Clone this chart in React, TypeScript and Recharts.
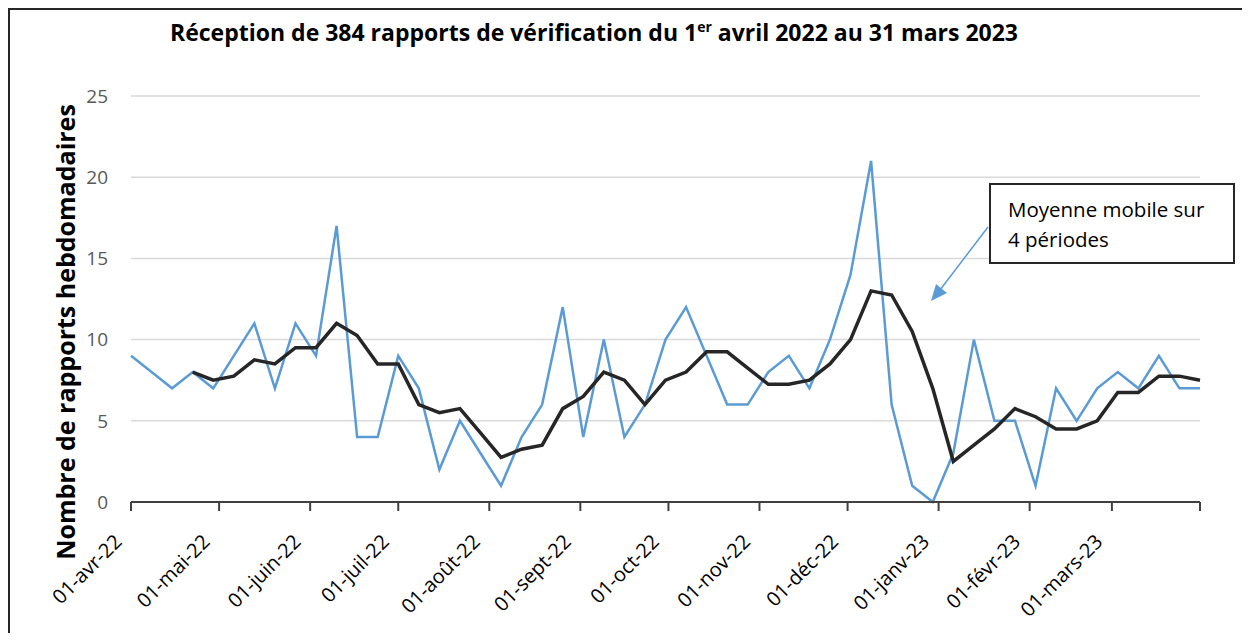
import { LineChart, Line, XAxis, YAxis, CartesianGrid } from "recharts"

// semaines (vendredis) du 1er avril 2022 au 31 mars 2023
const weeks = [
  "2022-04-01", "2022-04-08", "2022-04-15", "2022-04-22", "2022-04-29",
  "2022-05-06", "2022-05-13", "2022-05-20", "2022-05-27",
  "2022-06-03", "2022-06-10", "2022-06-17", "2022-06-24",
  "2022-07-01", "2022-07-08", "2022-07-15", "2022-07-22", "2022-07-29",
  "2022-08-05", "2022-08-12", "2022-08-19", "2022-08-26",
  "2022-09-02", "2022-09-09", "2022-09-16", "2022-09-23", "2022-09-30",
  "2022-10-07", "2022-10-14", "2022-10-21", "2022-10-28",
  "2022-11-04", "2022-11-11", "2022-11-18", "2022-11-25",
  "2022-12-02", "2022-12-09", "2022-12-16", "2022-12-23", "2022-12-30",
  "2023-01-06", "2023-01-13", "2023-01-20", "2023-01-27",
  "2023-02-03", "2023-02-10", "2023-02-17", "2023-02-24",
  "2023-03-03", "2023-03-10", "2023-03-17", "2023-03-24", "2023-03-31",
]

const weeklyReports = [
  9, 8, 7, 8, 7, 9, 11, 7, 11, 9, 17, 4, 4, 9, 7, 2, 5, 3, 1, 4, 6, 12, 4, 10, 4, 6,
  10, 12, 9, 6, 6, 8, 9, 7, 10, 14, 21, 6, 1, 0, 3, 10, 5, 5, 1, 7, 5, 7, 8, 7, 9, 7, 7,
]

// moyenne mobile sur 4 périodes
const movingAvg = [
  null, null, null, 8, 7.5, 7.75, 8.75, 8.5, 9.5, 9.5, 11, 10.25, 8.5, 8.5, 6, 5.5,
  5.75, 4.25, 2.75, 3.25, 3.5, 5.75, 6.5, 8, 7.5, 6, 7.5, 8, 9.25, 9.25, 8.25, 7.25,
  7.25, 7.5, 8.5, 10, 13, 12.75, 10.5, 7, 2.5, 3.5, 4.5, 5.75, 5.25, 4.5, 4.5, 5,
  6.75, 6.75, 7.75, 7.75, 7.5,
]

const monthTicks = [
  "2022-04-01", "2022-05-01", "2022-06-01", "2022-07-01", "2022-08-01", "2022-09-01",
  "2022-10-01", "2022-11-01", "2022-12-01", "2023-01-01", "2023-02-01", "2023-03-01",
  "2023-03-31",
]
const monthLabels = [
  "01-avr-22", "01-mai-22", "01-juin-22", "01-juil-22", "01-août-22", "01-sept-22",
  "01-oct-22", "01-nov-22", "01-déc-22", "01-janv-23", "01-févr-23", "01-mars-23", "",
]

const yTicks = [0, 5, 10, 15, 20, 25]

const start = Date.UTC(2022, 3, 1)
const toDay = (iso: string) => {
  const [y, m, d] = iso.split("-").map(Number)
  return Math.round((Date.UTC(y, m - 1, d) - start) / 86400000)
}

const data = weeks.map((w, i) => ({
  day: toDay(w),
  reports: weeklyReports[i],
  avg: movingAvg[i],
}))
const tickDays = monthTicks.map(toDay)

const FONT = "'Open Sans', sans-serif"

function DateTick({ x, y, payload }: any) {
  const idx = tickDays.indexOf(payload.value)
  const label = idx >= 0 ? monthLabels[idx] : ""
  const tx = x - 8
  const ty = y + 32
  return (
    <text
      x={tx}
      y={ty}
      transform={`rotate(-45, ${tx}, ${ty})`}
      textAnchor="end"
      fontSize={20}
      fontFamily={FONT}
      fill="#000"
    >
      {label}
    </text>
  )
}

export default function App() {
  return (
    <div
      style={{
        position: "relative",
        width: 1234,
        height: 625,
        boxSizing: "border-box",
        borderTop: "2px solid #262626",
        borderLeft: "2px solid #262626",
        background: "#fff",
        fontFamily: FONT,
      }}
    >
      {/* Titre */}
      <div
        style={{
          position: "absolute",
          left: 160,
          top: 6,
          fontSize: 23,
          fontWeight: 700,
          color: "#000",
          whiteSpace: "nowrap",
        }}
      >
        Réception de 384 rapports de vérification du 1
        <sup style={{ fontSize: 14 }}>er</sup> avril 2022 au 31 mars 2023
      </div>

      {/* Titre de l'axe vertical */}
      <div
        style={{
          position: "absolute",
          left: 55,
          top: 322,
          transform: "translate(-50%, -50%) rotate(-90deg)",
          fontSize: 25,
          fontWeight: 700,
          color: "#000",
          whiteSpace: "nowrap",
        }}
      >
        Nombre de rapports hebdomadaires
      </div>

      <LineChart
        width={1232}
        height={623}
        data={data}
        margin={{ top: 86, right: 42, left: 0, bottom: 0 }}
      >
        <CartesianGrid vertical={false} stroke="#d9d9d9" strokeWidth={1.5} />
        <XAxis
          dataKey="day"
          type="number"
          domain={[0, 364]}
          ticks={tickDays}
          interval={0}
          height={131}
          tick={<DateTick />}
          tickSize={9}
          tickMargin={0}
          axisLine={{ stroke: "#404040", strokeWidth: 2 }}
          tickLine={{ stroke: "#404040", strokeWidth: 2 }}
        />
        <YAxis
          width={121}
          domain={[0, 25]}
          ticks={yTicks}
          axisLine={false}
          tickLine={false}
          tickMargin={17}
          tick={{ fontSize: 19, fill: "#595959", fontFamily: FONT }}
        />
        <Line
          dataKey="reports"
          stroke="#5b9bd5"
          strokeWidth={2.5}
          dot={false}
          isAnimationActive={false}
        />
        <Line
          dataKey="avg"
          stroke="#262626"
          strokeWidth={3.5}
          dot={false}
          isAnimationActive={false}
        />
      </LineChart>

      {/* Annotation */}
      <div
        style={{
          position: "absolute",
          left: 979,
          top: 173,
          width: 246,
          height: 81,
          boxSizing: "border-box",
          border: "2px solid #262626",
          background: "#fff",
          padding: "9px 0 0 17px",
          fontSize: 20.5,
          lineHeight: "30px",
          color: "#000",
          whiteSpace: "nowrap",
        }}
      >
        Moyenne mobile sur
        <br />4 périodes
      </div>
      <svg
        style={{ position: "absolute", left: 0, top: 0, pointerEvents: "none" }}
        width={1232}
        height={623}
      >
        <line x1={978} y1={217} x2={930} y2={280} stroke="#5b9bd5" strokeWidth={1.5} />
        <polygon points="921,291 926,274 937,283" fill="#5b9bd5" />
      </svg>
    </div>
  )
}
